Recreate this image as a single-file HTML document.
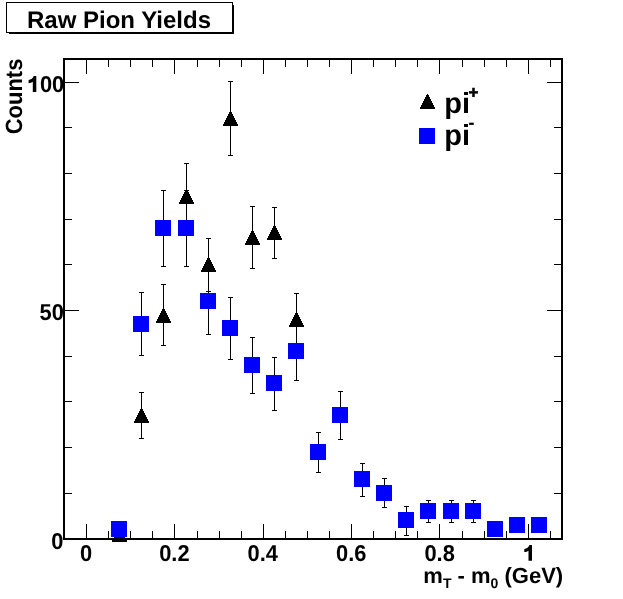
<!DOCTYPE html>
<html><head><meta charset="utf-8">
<style>
html,body{margin:0;padding:0;background:#fff;}
body{width:623px;height:599px;overflow:hidden;}
svg{display:block;will-change:transform;}
text{font-family:"Liberation Sans",sans-serif;font-weight:bold;fill:#000;text-rendering:geometricPrecision;}
</style></head><body>
<svg width="623" height="599" viewBox="0 0 623 599">
<rect x="0" y="0" width="623" height="599" fill="#fff"/>
<rect x="9" y="5" width="225" height="29" fill="#000"/>
<rect x="6.5" y="2.5" width="226" height="30" fill="#fff" stroke="#000" stroke-width="1"/>
<g shape-rendering="crispEdges">
<rect x="63" y="58" width="500" height="2" fill="#000"/>
<rect x="63" y="538" width="500" height="2" fill="#000"/>
<rect x="63" y="58" width="2" height="482" fill="#000"/>
<rect x="561" y="58" width="2" height="482" fill="#000"/>
<rect x="86" y="524" width="1" height="14" fill="#000"/>
<rect x="86" y="60" width="1" height="14" fill="#000"/>
<rect x="108" y="531" width="1" height="7" fill="#000"/>
<rect x="108" y="60" width="1" height="7" fill="#000"/>
<rect x="130" y="531" width="1" height="7" fill="#000"/>
<rect x="130" y="60" width="1" height="7" fill="#000"/>
<rect x="152" y="531" width="1" height="7" fill="#000"/>
<rect x="152" y="60" width="1" height="7" fill="#000"/>
<rect x="174" y="524" width="1" height="14" fill="#000"/>
<rect x="174" y="60" width="1" height="14" fill="#000"/>
<rect x="197" y="531" width="1" height="7" fill="#000"/>
<rect x="197" y="60" width="1" height="7" fill="#000"/>
<rect x="219" y="531" width="1" height="7" fill="#000"/>
<rect x="219" y="60" width="1" height="7" fill="#000"/>
<rect x="241" y="531" width="1" height="7" fill="#000"/>
<rect x="241" y="60" width="1" height="7" fill="#000"/>
<rect x="263" y="524" width="1" height="14" fill="#000"/>
<rect x="263" y="60" width="1" height="14" fill="#000"/>
<rect x="285" y="531" width="1" height="7" fill="#000"/>
<rect x="285" y="60" width="1" height="7" fill="#000"/>
<rect x="307" y="531" width="1" height="7" fill="#000"/>
<rect x="307" y="60" width="1" height="7" fill="#000"/>
<rect x="329" y="531" width="1" height="7" fill="#000"/>
<rect x="329" y="60" width="1" height="7" fill="#000"/>
<rect x="351" y="524" width="1" height="14" fill="#000"/>
<rect x="351" y="60" width="1" height="14" fill="#000"/>
<rect x="373" y="531" width="1" height="7" fill="#000"/>
<rect x="373" y="60" width="1" height="7" fill="#000"/>
<rect x="395" y="531" width="1" height="7" fill="#000"/>
<rect x="395" y="60" width="1" height="7" fill="#000"/>
<rect x="417" y="531" width="1" height="7" fill="#000"/>
<rect x="417" y="60" width="1" height="7" fill="#000"/>
<rect x="439" y="524" width="1" height="14" fill="#000"/>
<rect x="439" y="60" width="1" height="14" fill="#000"/>
<rect x="462" y="531" width="1" height="7" fill="#000"/>
<rect x="462" y="60" width="1" height="7" fill="#000"/>
<rect x="484" y="531" width="1" height="7" fill="#000"/>
<rect x="484" y="60" width="1" height="7" fill="#000"/>
<rect x="506" y="531" width="1" height="7" fill="#000"/>
<rect x="506" y="60" width="1" height="7" fill="#000"/>
<rect x="528" y="524" width="1" height="14" fill="#000"/>
<rect x="528" y="60" width="1" height="14" fill="#000"/>
<rect x="550" y="531" width="1" height="7" fill="#000"/>
<rect x="550" y="60" width="1" height="7" fill="#000"/>
<rect x="65" y="493" width="7" height="1" fill="#000"/>
<rect x="554" y="493" width="7" height="1" fill="#000"/>
<rect x="65" y="447" width="7" height="1" fill="#000"/>
<rect x="554" y="447" width="7" height="1" fill="#000"/>
<rect x="65" y="401" width="7" height="1" fill="#000"/>
<rect x="554" y="401" width="7" height="1" fill="#000"/>
<rect x="65" y="356" width="7" height="1" fill="#000"/>
<rect x="554" y="356" width="7" height="1" fill="#000"/>
<rect x="65" y="310" width="14" height="1" fill="#000"/>
<rect x="547" y="310" width="14" height="1" fill="#000"/>
<rect x="65" y="264" width="7" height="1" fill="#000"/>
<rect x="554" y="264" width="7" height="1" fill="#000"/>
<rect x="65" y="219" width="7" height="1" fill="#000"/>
<rect x="554" y="219" width="7" height="1" fill="#000"/>
<rect x="65" y="173" width="7" height="1" fill="#000"/>
<rect x="554" y="173" width="7" height="1" fill="#000"/>
<rect x="65" y="127" width="7" height="1" fill="#000"/>
<rect x="554" y="127" width="7" height="1" fill="#000"/>
<rect x="65" y="82" width="14" height="1" fill="#000"/>
<rect x="547" y="82" width="14" height="1" fill="#000"/>
<rect x="141" y="392" width="1" height="47" fill="#000"/>
<rect x="139" y="392" width="5" height="1" fill="#000"/>
<rect x="139" y="438" width="5" height="1" fill="#000"/>
<rect x="163" y="284" width="1" height="62" fill="#000"/>
<rect x="161" y="284" width="5" height="1" fill="#000"/>
<rect x="161" y="345" width="5" height="1" fill="#000"/>
<rect x="186" y="163" width="1" height="68" fill="#000"/>
<rect x="184" y="163" width="5" height="1" fill="#000"/>
<rect x="184" y="230" width="5" height="1" fill="#000"/>
<rect x="208" y="238" width="1" height="54" fill="#000"/>
<rect x="206" y="238" width="5" height="1" fill="#000"/>
<rect x="206" y="291" width="5" height="1" fill="#000"/>
<rect x="230" y="81" width="1" height="75" fill="#000"/>
<rect x="228" y="81" width="5" height="1" fill="#000"/>
<rect x="228" y="155" width="5" height="1" fill="#000"/>
<rect x="252" y="206" width="1" height="63" fill="#000"/>
<rect x="250" y="206" width="5" height="1" fill="#000"/>
<rect x="250" y="268" width="5" height="1" fill="#000"/>
<rect x="274" y="207" width="1" height="52" fill="#000"/>
<rect x="272" y="207" width="5" height="1" fill="#000"/>
<rect x="272" y="258" width="5" height="1" fill="#000"/>
<rect x="296" y="293" width="1" height="54" fill="#000"/>
<rect x="294" y="293" width="5" height="1" fill="#000"/>
<rect x="294" y="346" width="5" height="1" fill="#000"/>
<rect x="119" y="527" width="1" height="1" fill="#000"/>
<rect x="112" y="540" width="15" height="2" fill="#000"/>
<rect x="113" y="538" width="13" height="2" fill="#000"/>
<rect x="114" y="536" width="11" height="2" fill="#000"/>
<rect x="115" y="534" width="9" height="2" fill="#000"/>
<rect x="116" y="532" width="7" height="2" fill="#000"/>
<rect x="117" y="530" width="5" height="2" fill="#000"/>
<rect x="118" y="528" width="3" height="2" fill="#000"/>
<rect x="141" y="408" width="1" height="1" fill="#000"/>
<rect x="134" y="421" width="15" height="2" fill="#000"/>
<rect x="135" y="419" width="13" height="2" fill="#000"/>
<rect x="136" y="417" width="11" height="2" fill="#000"/>
<rect x="137" y="415" width="9" height="2" fill="#000"/>
<rect x="138" y="413" width="7" height="2" fill="#000"/>
<rect x="139" y="411" width="5" height="2" fill="#000"/>
<rect x="140" y="409" width="3" height="2" fill="#000"/>
<rect x="163" y="308" width="1" height="1" fill="#000"/>
<rect x="156" y="321" width="15" height="2" fill="#000"/>
<rect x="157" y="319" width="13" height="2" fill="#000"/>
<rect x="158" y="317" width="11" height="2" fill="#000"/>
<rect x="159" y="315" width="9" height="2" fill="#000"/>
<rect x="160" y="313" width="7" height="2" fill="#000"/>
<rect x="161" y="311" width="5" height="2" fill="#000"/>
<rect x="162" y="309" width="3" height="2" fill="#000"/>
<rect x="186" y="189" width="1" height="1" fill="#000"/>
<rect x="179" y="202" width="15" height="2" fill="#000"/>
<rect x="180" y="200" width="13" height="2" fill="#000"/>
<rect x="181" y="198" width="11" height="2" fill="#000"/>
<rect x="182" y="196" width="9" height="2" fill="#000"/>
<rect x="183" y="194" width="7" height="2" fill="#000"/>
<rect x="184" y="192" width="5" height="2" fill="#000"/>
<rect x="185" y="190" width="3" height="2" fill="#000"/>
<rect x="208" y="257" width="1" height="1" fill="#000"/>
<rect x="201" y="270" width="15" height="2" fill="#000"/>
<rect x="202" y="268" width="13" height="2" fill="#000"/>
<rect x="203" y="266" width="11" height="2" fill="#000"/>
<rect x="204" y="264" width="9" height="2" fill="#000"/>
<rect x="205" y="262" width="7" height="2" fill="#000"/>
<rect x="206" y="260" width="5" height="2" fill="#000"/>
<rect x="207" y="258" width="3" height="2" fill="#000"/>
<rect x="230" y="111" width="1" height="1" fill="#000"/>
<rect x="223" y="124" width="15" height="2" fill="#000"/>
<rect x="224" y="122" width="13" height="2" fill="#000"/>
<rect x="225" y="120" width="11" height="2" fill="#000"/>
<rect x="226" y="118" width="9" height="2" fill="#000"/>
<rect x="227" y="116" width="7" height="2" fill="#000"/>
<rect x="228" y="114" width="5" height="2" fill="#000"/>
<rect x="229" y="112" width="3" height="2" fill="#000"/>
<rect x="252" y="230" width="1" height="1" fill="#000"/>
<rect x="245" y="243" width="15" height="2" fill="#000"/>
<rect x="246" y="241" width="13" height="2" fill="#000"/>
<rect x="247" y="239" width="11" height="2" fill="#000"/>
<rect x="248" y="237" width="9" height="2" fill="#000"/>
<rect x="249" y="235" width="7" height="2" fill="#000"/>
<rect x="250" y="233" width="5" height="2" fill="#000"/>
<rect x="251" y="231" width="3" height="2" fill="#000"/>
<rect x="274" y="225" width="1" height="1" fill="#000"/>
<rect x="267" y="238" width="15" height="2" fill="#000"/>
<rect x="268" y="236" width="13" height="2" fill="#000"/>
<rect x="269" y="234" width="11" height="2" fill="#000"/>
<rect x="270" y="232" width="9" height="2" fill="#000"/>
<rect x="271" y="230" width="7" height="2" fill="#000"/>
<rect x="272" y="228" width="5" height="2" fill="#000"/>
<rect x="273" y="226" width="3" height="2" fill="#000"/>
<rect x="296" y="312" width="1" height="1" fill="#000"/>
<rect x="289" y="325" width="15" height="2" fill="#000"/>
<rect x="290" y="323" width="13" height="2" fill="#000"/>
<rect x="291" y="321" width="11" height="2" fill="#000"/>
<rect x="292" y="319" width="9" height="2" fill="#000"/>
<rect x="293" y="317" width="7" height="2" fill="#000"/>
<rect x="294" y="315" width="5" height="2" fill="#000"/>
<rect x="295" y="313" width="3" height="2" fill="#000"/>
<rect x="141" y="292" width="1" height="64" fill="#000"/>
<rect x="139" y="292" width="5" height="1" fill="#000"/>
<rect x="139" y="355" width="5" height="1" fill="#000"/>
<rect x="163" y="190" width="1" height="77" fill="#000"/>
<rect x="161" y="190" width="5" height="1" fill="#000"/>
<rect x="161" y="266" width="5" height="1" fill="#000"/>
<rect x="186" y="190" width="1" height="77" fill="#000"/>
<rect x="184" y="190" width="5" height="1" fill="#000"/>
<rect x="184" y="266" width="5" height="1" fill="#000"/>
<rect x="208" y="267" width="1" height="68" fill="#000"/>
<rect x="206" y="267" width="5" height="1" fill="#000"/>
<rect x="206" y="334" width="5" height="1" fill="#000"/>
<rect x="230" y="297" width="1" height="63" fill="#000"/>
<rect x="228" y="297" width="5" height="1" fill="#000"/>
<rect x="228" y="359" width="5" height="1" fill="#000"/>
<rect x="252" y="337" width="1" height="57" fill="#000"/>
<rect x="250" y="337" width="5" height="1" fill="#000"/>
<rect x="250" y="393" width="5" height="1" fill="#000"/>
<rect x="274" y="357" width="1" height="54" fill="#000"/>
<rect x="272" y="357" width="5" height="1" fill="#000"/>
<rect x="272" y="410" width="5" height="1" fill="#000"/>
<rect x="296" y="321" width="1" height="60" fill="#000"/>
<rect x="294" y="321" width="5" height="1" fill="#000"/>
<rect x="294" y="380" width="5" height="1" fill="#000"/>
<rect x="318" y="432" width="1" height="41" fill="#000"/>
<rect x="316" y="432" width="5" height="1" fill="#000"/>
<rect x="316" y="472" width="5" height="1" fill="#000"/>
<rect x="340" y="391" width="1" height="49" fill="#000"/>
<rect x="338" y="391" width="5" height="1" fill="#000"/>
<rect x="338" y="439" width="5" height="1" fill="#000"/>
<rect x="362" y="463" width="1" height="34" fill="#000"/>
<rect x="360" y="463" width="5" height="1" fill="#000"/>
<rect x="360" y="496" width="5" height="1" fill="#000"/>
<rect x="384" y="478" width="1" height="30" fill="#000"/>
<rect x="382" y="478" width="5" height="1" fill="#000"/>
<rect x="382" y="507" width="5" height="1" fill="#000"/>
<rect x="406" y="506" width="1" height="30" fill="#000"/>
<rect x="404" y="506" width="5" height="1" fill="#000"/>
<rect x="404" y="535" width="5" height="1" fill="#000"/>
<rect x="428" y="500" width="1" height="23" fill="#000"/>
<rect x="426" y="500" width="5" height="1" fill="#000"/>
<rect x="426" y="522" width="5" height="1" fill="#000"/>
<rect x="451" y="500" width="1" height="23" fill="#000"/>
<rect x="449" y="500" width="5" height="1" fill="#000"/>
<rect x="449" y="522" width="5" height="1" fill="#000"/>
<rect x="473" y="500" width="1" height="23" fill="#000"/>
<rect x="471" y="500" width="5" height="1" fill="#000"/>
<rect x="471" y="522" width="5" height="1" fill="#000"/>
<rect x="111" y="521" width="16" height="16" fill="#0000ff"/>
<rect x="133" y="316" width="16" height="16" fill="#0000ff"/>
<rect x="155" y="220" width="16" height="16" fill="#0000ff"/>
<rect x="178" y="220" width="16" height="16" fill="#0000ff"/>
<rect x="200" y="293" width="16" height="16" fill="#0000ff"/>
<rect x="222" y="320" width="16" height="16" fill="#0000ff"/>
<rect x="244" y="357" width="16" height="16" fill="#0000ff"/>
<rect x="266" y="375" width="16" height="16" fill="#0000ff"/>
<rect x="288" y="343" width="16" height="16" fill="#0000ff"/>
<rect x="310" y="444" width="16" height="16" fill="#0000ff"/>
<rect x="332" y="407" width="16" height="16" fill="#0000ff"/>
<rect x="354" y="471" width="16" height="16" fill="#0000ff"/>
<rect x="376" y="485" width="16" height="16" fill="#0000ff"/>
<rect x="398" y="512" width="16" height="16" fill="#0000ff"/>
<rect x="420" y="503" width="16" height="16" fill="#0000ff"/>
<rect x="443" y="503" width="16" height="16" fill="#0000ff"/>
<rect x="465" y="503" width="16" height="16" fill="#0000ff"/>
<rect x="487" y="521" width="16" height="16" fill="#0000ff"/>
<rect x="509" y="517" width="16" height="16" fill="#0000ff"/>
<rect x="531" y="517" width="16" height="16" fill="#0000ff"/>
<rect x="427" y="94" width="1" height="1" fill="#000"/>
<rect x="420" y="107" width="15" height="2" fill="#000"/>
<rect x="421" y="105" width="13" height="2" fill="#000"/>
<rect x="422" y="103" width="11" height="2" fill="#000"/>
<rect x="423" y="101" width="9" height="2" fill="#000"/>
<rect x="424" y="99" width="7" height="2" fill="#000"/>
<rect x="425" y="97" width="5" height="2" fill="#000"/>
<rect x="426" y="95" width="3" height="2" fill="#000"/>
<rect x="419" y="128" width="16" height="16" fill="#0000ff"/>
</g>
<text transform="translate(119,28) scale(1.0,1)" x="0" y="0" font-size="24" text-anchor="middle" >Raw Pion Yields</text>
<text transform="translate(64.2,92) scale(0.95,1)" x="0" y="0" font-size="23" text-anchor="end" >00</text>
<path transform="translate(32.8,91.9)" d="M0,0 L3.5,0 L3.5,-15.8 L0.9,-15.8 C0.3,-13.6 -1.8,-12.0 -4.2,-11.8 L-4.2,-8.7 C-2.6,-8.8 -1.0,-9.3 0,-10.1 Z" fill="#000"/>
<text transform="translate(63.9,320) scale(0.95,1)" x="0" y="0" font-size="23" text-anchor="end" >50</text>
<text transform="translate(63.5,549) scale(0.95,1)" x="0" y="0" font-size="23" text-anchor="end" >0</text>
<path transform="translate(528.5,560.8)" d="M0,0 L3.5,0 L3.5,-15.8 L0.9,-15.8 C0.3,-13.6 -1.8,-12.0 -4.2,-11.8 L-4.2,-8.7 C-2.6,-8.8 -1.0,-9.3 0,-10.1 Z" fill="#000"/>
<text transform="translate(86.0,561) scale(0.95,1)" x="0" y="0" font-size="23" text-anchor="middle" >0</text>
<text transform="translate(174.4,561) scale(0.95,1)" x="0" y="0" font-size="23" text-anchor="middle" >0.2</text>
<text transform="translate(262.8,561) scale(0.95,1)" x="0" y="0" font-size="23" text-anchor="middle" >0.4</text>
<text transform="translate(351.2,561) scale(0.95,1)" x="0" y="0" font-size="23" text-anchor="middle" >0.6</text>
<text transform="translate(439.6,561) scale(0.95,1)" x="0" y="0" font-size="23" text-anchor="middle" >0.8</text>
<text transform="translate(22.3,134.3) rotate(-90) scale(0.935,1)" font-size="23.5" text-anchor="start">Counts</text>
<text x="563.2" y="583" font-size="22" text-anchor="end">m<tspan font-size="14" dy="5">T</tspan><tspan dy="-5"> - m</tspan><tspan font-size="14" dy="5">0</tspan><tspan dy="-5"> (GeV)</tspan></text>
<text x="444.3" y="113" font-size="29">pi<tspan font-size="17" dy="-15.5" dx="-1.5" style="stroke:#000;stroke-width:0.6">+</tspan></text>
<text x="444.3" y="145" font-size="29">pi<tspan font-size="16" dy="-16.8" dx="-1.3" style="stroke:#000;stroke-width:0.5">-</tspan></text>
</svg>
</body></html>
